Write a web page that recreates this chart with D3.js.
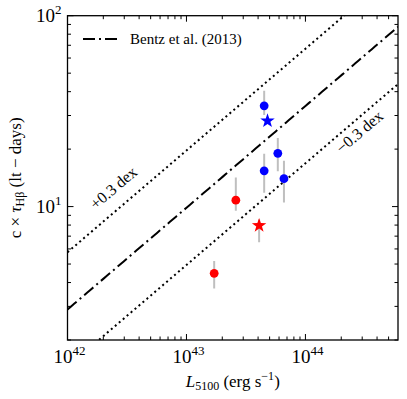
<!DOCTYPE html>
<html><head><meta charset="utf-8">
<script src="https://cdn.jsdelivr.net/npm/d3@7"></script>
<style>body{margin:0;background:#fff}svg{display:block}</style>
</head><body><svg id="c" width="407" height="399"></svg>
<script>
// Data
const blueL   = [4.5e43, 5.86e43, 4.5e43, 6.6e43];
const blueR   = [33.7, 19.0, 15.4, 14.0];
const blueLo  = [30.2, 15.3, 11.8, 10.5];
const blueHi  = [40.4, 22.9, 18.9, 17.4];
const redL    = [2.6e43, 1.71e43];
const redR    = [10.8, 4.47];
const redLo   = [9.5, 3.72];
const redHi   = [14.2, 5.18];
const starL   = [4.8e43, 4.08e43];
const starR   = [28.1, 7.96];
const starLo  = [28.1, 6.5];
const starHi  = [28.1, 8.55];
const starColors = ["#0000ff", "#ff0000"];
const xTickExp = [42, 43, 44];
const yTickExp = [1, 2];
const bentzK = 1.527, bentzAlpha = 0.533, offsetDex = 0.3;
const xDomain = [1e42, 6e44], yDomain = [2, 100];

const FONT = "Liberation Serif";
const svg = d3.select("#c");
const m = {l:67.5, r:398, t:15.7, b:340};
const x = d3.scaleLog().domain(xDomain).range([m.l, m.r]);
const y = d3.scaleLog().domain(yDomain).range([m.b, m.t]);
function txt(parent, size) {
  return parent.append("text").attr("font-family", FONT).attr("font-size", size)
    .style("font-family", FONT, "important").style("font-size", size + "px", "important").attr("fill", "#000");
}
function sub(t, size, dy, s) {
  return t.append("tspan").attr("font-size", size).style("font-size", size + "px", "important").attr("dy", dy).text(s);
}

svg.append("clipPath").attr("id","clip").append("rect")
  .attr("x",m.l).attr("y",m.t).attr("width",m.r-m.l).attr("height",m.b-m.t);
const g = svg.append("g").attr("clip-path","url(#clip)");

// Relation lines
const Ls = d3.range(0, 101).map(i => Math.pow(10, 42 + i*(Math.log10(6e44)-42)/100));
const relation = (L, off) => Math.pow(10, bentzK + bentzAlpha*Math.log10(L/1e44) + off);
const line = off => d3.line().x(d => x(d)).y(d => y(relation(d, off)))(Ls);
g.append("path").attr("d", line(0)).attr("fill","none").attr("stroke","#000")
  .attr("stroke-width",2).attr("stroke-dasharray","12,4,2,4");
[offsetDex, -offsetDex].forEach(o => g.append("path").attr("d", line(o)).attr("fill","none")
  .attr("stroke","#000").attr("stroke-width",2).attr("stroke-dasharray","2,3.2"));

// Error bars
function ebars(Lx, lo, hi) {
  Lx.forEach((L,i) => g.append("line").attr("x1",x(L)).attr("x2",x(L))
    .attr("y1",y(lo[i])).attr("y2",y(hi[i])).attr("stroke","#bfbfbf").attr("stroke-width",2));
}
ebars(blueL, blueLo, blueHi); ebars(redL, redLo, redHi); ebars(starL, starLo, starHi);

blueL.forEach((L,i)=> g.append("circle").attr("cx",x(L)).attr("cy",y(blueR[i])).attr("r",4.4).attr("fill","#0000ff"));
redL.forEach((L,i)=> g.append("circle").attr("cx",x(L)).attr("cy",y(redR[i])).attr("r",4.4).attr("fill","#ff0000"));
function starPath(R, r) {
  const pts = [];
  for (let k=0;k<10;k++){ const a = -Math.PI/2 + k*Math.PI/5; const rr = k%2?r:R; pts.push([rr*Math.cos(a), rr*Math.sin(a)]); }
  return "M" + pts.map(p=>p.join(",")).join("L") + "Z";
}
starL.forEach((L,i)=> g.append("path").attr("d", starPath(7.6, 3.0))
  .attr("transform",`translate(${x(L)},${y(starR[i])})`).attr("fill",starColors[i]));

// Ticks (inward, all sides)
const ax = svg.append("g").attr("stroke","#000").attr("stroke-width",1);
const xMajor = xTickExp.map(e=>Math.pow(10,e));
const xMinor = [];
for (let e=42;e<=44;e++) for (let k=2;k<=9;k++){ const v=k*Math.pow(10,e); if (v<=xDomain[1]) xMinor.push(v); }
const yMajor = yTickExp.map(e=>Math.pow(10,e));
const yMinor = [];
for (let e=0;e<=1;e++) for (let k=2;k<=9;k++){ const v=k*Math.pow(10,e); if (v>=yDomain[0] && v<yDomain[1]) yMinor.push(v); }
function xt(v,len){ ax.append("line").attr("x1",x(v)).attr("x2",x(v)).attr("y1",m.b).attr("y2",m.b-len);
  ax.append("line").attr("x1",x(v)).attr("x2",x(v)).attr("y1",m.t).attr("y2",m.t+len); }
function yt(v,len){ ax.append("line").attr("y1",y(v)).attr("y2",y(v)).attr("x1",m.l).attr("x2",m.l+len);
  ax.append("line").attr("y1",y(v)).attr("y2",y(v)).attr("x1",m.r).attr("x2",m.r-len); }
xMajor.forEach(v=>xt(v,6)); xMinor.forEach(v=>xt(v,3.5));
yMajor.forEach(v=>yt(v,6)); yMinor.forEach(v=>yt(v,3.5));
svg.append("rect").attr("x",m.l).attr("y",m.t).attr("width",m.r-m.l).attr("height",m.b-m.t)
  .attr("fill","none").attr("stroke","#000").attr("stroke-width",1.3);

// Tick labels
xTickExp.forEach(e=>{ const t=txt(svg,19).attr("x",x(Math.pow(10,e))+2).attr("y",363).attr("text-anchor","middle");
  t.append("tspan").text("10"); sub(t,13,-8,e); });
yTickExp.forEach(e=>{ const t=txt(svg,19).attr("x",m.l-6).attr("y",y(Math.pow(10,e))+6).attr("text-anchor","end");
  t.append("tspan").text("10"); sub(t,13,-8,e); });

// Axis labels
const xl = txt(svg,17).attr("x",(m.l+m.r)/2).attr("y",387).attr("text-anchor","middle");
xl.append("tspan").style("font-style","italic").text("L");
sub(xl,12,3,"5100");
xl.append("tspan").attr("dy",-3).text(" (erg s");
sub(xl,12,-7,"−1");
xl.append("tspan").attr("dy",7).text(")");
const yl = txt(svg,17).attr("transform",`translate(21,${(m.t+m.b)/2}) rotate(-90)`).attr("text-anchor","middle");
yl.append("tspan").text("c × ");
yl.append("tspan").style("font-style","italic").text("τ");
sub(yl,12,3,"Hβ");
yl.append("tspan").attr("dy",-3).text(" (lt − days)");

// Annotations
const ang = -Math.atan(bentzAlpha*(y(10)-y(100))/(x(1e43)-x(1e42)))*180/Math.PI;
txt(svg,16).attr("transform",`translate(117,192) rotate(${ang})`).attr("text-anchor","middle").text("+0.3 dex");
txt(svg,16).attr("transform",`translate(363,136) rotate(${ang})`).attr("text-anchor","middle").text("−0.3 dex");

// Legend
svg.append("line").attr("x1",83).attr("x2",118).attr("y1",39).attr("y2",39).attr("stroke","#000")
  .attr("stroke-width",2).attr("stroke-dasharray","12,4,2,4");
txt(svg,15).attr("x",130).attr("y",44).text("Bentz et al. (2013)");
</script></body></html>
